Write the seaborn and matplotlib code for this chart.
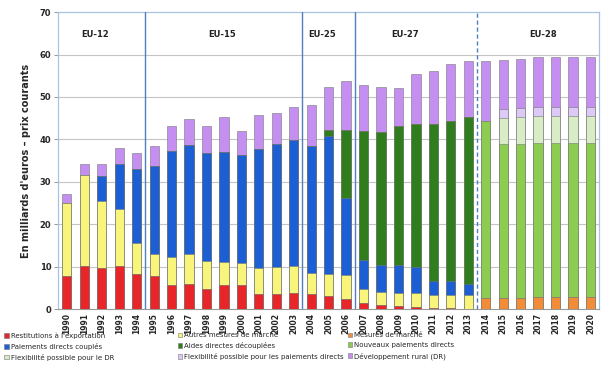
#!/usr/bin/env python3
import pandas as pd
import numpy as np
import matplotlib
matplotlib.use("Agg")
import matplotlib.pyplot as plt
from matplotlib.patches import Patch
import seaborn as sns

years = [str(y) for y in range(1990, 2021)]

# segment heights (milliards d'euros), bottom to top
restitutions = [7.8, 10.1, 9.6, 10.2, 8.2, 7.8, 5.7, 5.9, 4.8, 5.7, 5.7, 3.5, 3.5, 3.7, 3.5, 3.1,
                2.5, 1.5, 1.0, 0.7, 0.5, 0.2, 0.2, 0.1, 0, 0, 0, 0, 0, 0, 0]
mesures_marche = [0] * 24 + [2.7, 2.7, 2.7, 2.8, 2.8, 2.8, 2.8]
autres_mesures = [17.2, 21.5, 15.8, 13.4, 7.5, 5.3, 6.6, 7.0, 6.5, 5.3, 5.1, 6.2, 6.5, 6.4, 5.0, 5.2,
                  5.5, 3.3, 3.1, 3.2, 3.4, 3.1, 3.1, 3.2, 0, 0, 0, 0, 0, 0, 0]
couples = [0, 0, 6.0, 10.5, 17.3, 20.6, 25.0, 25.8, 25.6, 26.0, 25.5, 28.1, 28.9, 29.7, 29.9, 32.4,
           18.1, 6.7, 6.3, 6.5, 6.1, 3.4, 3.4, 2.7, 0, 0, 0, 0, 0, 0, 0]
decouplees = [0] * 15 + [1.5, 16.1, 30.4, 31.4, 32.8, 33.7, 36.9, 37.6, 39.3, 0, 0, 0, 0, 0, 0, 0]
nouveaux = [0] * 24 + [41.6, 36.1, 36.3, 36.4, 36.4, 36.4, 36.4]
flex_dr = [0] * 25 + [6.3, 6.3, 6.3, 6.3, 6.3, 6.3]
flex_pd = [0] * 25 + [2.0, 2.1, 2.1, 2.1, 2.1, 2.1]
dev_rural = [2.2, 2.5, 2.9, 3.9, 3.9, 4.7, 5.9, 6.2, 6.3, 8.3, 5.7, 7.9, 7.4, 7.8, 9.6, 10.2,
             11.5, 11.0, 10.6, 8.8, 11.6, 12.4, 13.4, 13.2, 14.2, 11.7, 11.6, 11.7, 11.7, 11.7, 11.7]

series = [
    ("Restitutions à l'exportation", restitutions, "#e8262a"),
    ("Mesures de marché", mesures_marche, "#f28c38"),
    ("Autres mesures de marché", autres_mesures, "#f8f57a"),
    ("Paiements directs couplés", couples, "#1c5fd4"),
    ("Aides directes découplées", decouplees, "#2f7d1c"),
    ("Nouveaux paiements directs", nouveaux, "#8ccc50"),
    ("Flexibilité possible pour le DR", flex_dr, "#d8ecc6"),
    ("Flexibilité possible pour les paiements directs", flex_pd, "#ddc9f6"),
    ("Développement rural (DR)", dev_rural, "#c58ff2"),
]

regions = ["EU-12", "EU-15", "EU-25", "EU-27", "EU-28"]
region_pos = [1.6, 8.9, 14.6, 19.4, 27.3]
separators = [4.5, 13.5, 16.5]
dashed_sep = 23.5

df = pd.DataFrame({name: vals for name, vals, _ in series}, index=years)
cum = df.cumsum(axis=1)

sns.set_theme(style="white")
plt.rcParams["font.family"] = ["DejaVu Sans"]

fig = plt.figure(figsize=(6.12, 3.77), dpi=100)
ax = fig.add_axes([0.095, 0.18, 0.884, 0.788])

# draw cumulative totals from top layer down so each lower layer covers the one above
for name, _, color in reversed(series):
    d = pd.DataFrame({"year": years, "value": cum[name].values})
    sns.barplot(data=d, x="year", y="value", color=color, width=0.53, saturation=1,
                edgecolor="#777777", linewidth=0.4, ax=ax, zorder=3)

for y in range(10, 70, 10):
    ax.axhline(y, color="#c4c4c4", lw=0.8, zorder=1)

for x in separators:
    ax.axvline(x, color="#4f7fbf", lw=1.0, zorder=4)
ax.axvline(dashed_sep, color="#4f7fbf", lw=1.0, ls=(0, (3, 2)), zorder=4)

for lab, x in zip(regions, region_pos):
    ax.text(x, 64.6, lab, ha="center", va="center", fontsize=6, fontweight="bold", color="#222222")

ax.set_xlim(-0.5, 30.5)
ax.set_ylim(0, 70)
ax.set_yticks(range(0, 71, 10))
ax.set_yticklabels([str(v) for v in range(0, 71, 10)], fontsize=6, fontweight="bold")
ax.set_xticks(range(len(years)))
ax.set_xticklabels(years, rotation=90, fontsize=5.5, fontweight="bold")
ax.tick_params(axis="y", length=3, width=0.6, color="#888888", pad=2, left=True)
ax.tick_params(axis="x", length=0, pad=3)
ax.set_xlabel(None)
ax.set_ylabel("En milliards d'euros – prix courants", fontsize=7, fontweight="bold", labelpad=6)

for side in ["top", "right", "left"]:
    ax.spines[side].set_color("#a8c2e2")
    ax.spines[side].set_linewidth(0.9)
ax.spines["bottom"].set_color("#999999")
ax.spines["bottom"].set_linewidth(0.8)

# legend: three fixed-position columns
legend_cols = [[0, 3, 6], [2, 4, 7], [1, 5, 8]]
col_x = [0.005, 0.288, 0.566]
for idxs, x0 in zip(legend_cols, col_x):
    handles = [Patch(facecolor=series[i][2], edgecolor="#777777", linewidth=0.4, label=series[i][0])
               for i in idxs]
    fig.legend(handles=handles, loc="upper left", bbox_to_anchor=(x0, 0.122), ncol=1, frameon=False,
               fontsize=5.0, handlelength=0.65, handleheight=0.65, handletextpad=0.25,
               labelspacing=0.55, borderaxespad=0, borderpad=0.2)

fig.savefig("out.png", dpi=100)
